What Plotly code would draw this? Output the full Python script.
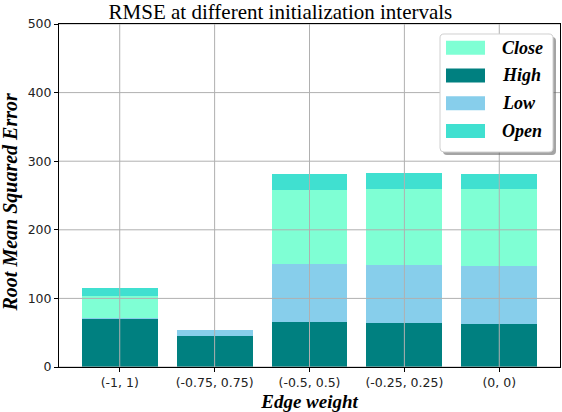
import plotly.graph_objects as go

# data
intervals = ["(-1, 1)", "(-0.75, 0.75)", "(-0.5, 0.5)", "(-0.25, 0.25)", "(0, 0)"]
high = [70, 45, 65.5, 64, 63]
low = [2, 9, 84.5, 84.5, 84]
close = [32, 0, 108, 111, 112.5]
open_ = [11, 0, 23, 23.5, 21.5]
y_ticks = [0, 100, 200, 300, 400, 500]

# stacking order (bottom up) and legend order
stack = [("High", high, "#008080"), ("Low", low, "#87CEEB"),
         ("Close", close, "#7FFFD4"), ("Open", open_, "#40E0D0")]
legend_order = ["Close", "High", "Low", "Open"]
colors = {name: c for name, _, c in stack}

W, H = 562, 412
L, T, PW, PH = 59, 24, 501, 343

def fx(X):
    return (X - L) / PW

def fy(Y):
    return (T + PH - Y) / PH

def rounded(x0, y0, x1, y1, r):
    pts = [("M", x0 + r, y0), ("L", x1 - r, y0), ("Q", x1, y0, x1, y0 + r),
           ("L", x1, y1 - r), ("Q", x1, y1, x1 - r, y1), ("L", x0 + r, y1),
           ("Q", x0, y1, x0, y1 - r), ("L", x0, y0 + r), ("Q", x0, y0, x0 + r, y0)]
    s = ""
    for p in pts:
        cmd, coords = p[0], p[1:]
        xy = []
        for i in range(0, len(coords), 2):
            xy.append(f"{fx(coords[i]):.5f},{fy(coords[i + 1]):.5f}")
        s += cmd + " ".join(xy) + " "
    return s + "Z"

serif_bi = dict(family="Liberation Serif", color="black", weight="bold", style="italic")

fig = go.Figure()
for name, vals, col in stack:
    fig.add_trace(go.Bar(x=intervals, y=vals, name=name, marker_color=col,
                         marker_line_width=0, showlegend=False))

shapes = []
grid = dict(color="#b0b0b0", width=1)
for i in range(len(intervals)):
    shapes.append(dict(type="line", xref="x", yref="paper", x0=i, x1=i, y0=0, y1=1,
                       line=grid, layer="above"))
for v in y_ticks:
    shapes.append(dict(type="line", xref="paper", yref="y", x0=0, x1=1, y0=v, y1=v,
                       line=grid, layer="above"))

# hand-drawn legend box (matplotlib style, with shadow)
bx0, by0, bx1, by1 = 440, 34, 553, 152
shapes.append(dict(type="path", xref="paper", yref="paper", layer="above",
                   path=rounded(bx0 + 3, by0 + 3, bx1 + 3, by1 + 3, 4),
                   fillcolor="rgba(90,90,90,0.55)", line_width=0))
shapes.append(dict(type="path", xref="paper", yref="paper", layer="above",
                   path=rounded(bx0, by0, bx1, by1, 4),
                   fillcolor="white", line=dict(color="#d0d0d0", width=1)))
annotations = []
for k, name in enumerate(legend_order):
    cy = 47.7 + k * 27.8
    shapes.append(dict(type="rect", xref="paper", yref="paper", layer="above",
                       x0=fx(446), x1=fx(485), y0=fy(cy + 7), y1=fy(cy - 7),
                       fillcolor=colors[name], line_width=0))
    annotations.append(dict(xref="paper", yref="paper", x=fx(500), y=fy(cy),
                            xanchor="left", yanchor="middle", text=name, showarrow=False,
                            font=dict(serif_bi, size=18)))

# y axis label, placed like the matplotlib one
annotations.append(dict(xref="paper", yref="paper", x=fx(10), y=fy(202.5), textangle=-90,
                        xanchor="center", yanchor="middle", showarrow=False,
                        text="Root Mean Squared Error", font=dict(serif_bi, size=20)))

fig.update_layout(
    width=W, height=H,
    margin=dict(l=L, r=W - L - PW, t=T, b=H - T - PH),
    barmode="stack", bargap=0.2,
    plot_bgcolor="white", paper_bgcolor="white",
    title=dict(text="RMSE at different initialization intervals", x=fx(309), xanchor="center",
               y=1 - 11.5 / H, yanchor="middle",
               font=dict(family="Liberation Serif", size=21, color="black")),
    shapes=shapes, annotations=annotations,
    font=dict(family="DejaVu Sans", size=12.5, color="#222"),
)
fig.update_xaxes(range=[-0.64, 4.64], showgrid=False, showline=True, linecolor="black",
                 linewidth=1, mirror=True, ticks="outside", ticklen=4, tickcolor="black",
                 layer="above traces",
                 title=dict(text="Edge weight", standoff=6, font=dict(serif_bi, size=19)))
fig.update_yaxes(range=[0, 500], tickvals=y_ticks, showgrid=False, zeroline=False,
                 showline=True, linecolor="black", linewidth=1, mirror=True,
                 ticks="outside", ticklen=4, tickcolor="black", layer="above traces")

# page body has an 8px default margin; drop it so the figure sits at the window corner
fig.write_html("out.html", config={"displayModeBar": False},
               post_script="document.body.style.margin='0';")
